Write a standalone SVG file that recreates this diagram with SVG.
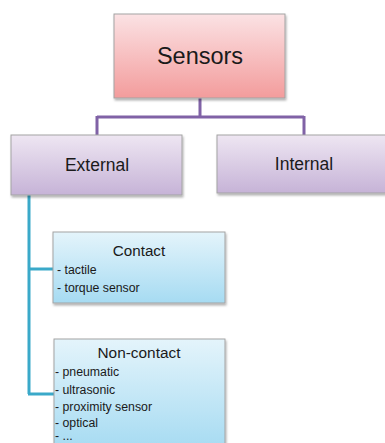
<svg xmlns="http://www.w3.org/2000/svg" width="385" height="443" viewBox="0 0 385 443">
<defs>
<linearGradient id="gPink" x1="0" y1="0" x2="0" y2="1"><stop offset="0" stop-color="#fbe2e4"/><stop offset="1" stop-color="#f39c9c"/></linearGradient>
<linearGradient id="gPurple" x1="0" y1="0" x2="0" y2="1"><stop offset="0" stop-color="#eee6f2"/><stop offset="1" stop-color="#c6b3d7"/></linearGradient>
<linearGradient id="gBlue" x1="0" y1="0" x2="0" y2="1"><stop offset="0" stop-color="#e4f4fb"/><stop offset="1" stop-color="#a6dbf2"/></linearGradient>
<filter id="sh" x="-10%" y="-10%" width="130%" height="130%"><feDropShadow dx="1" dy="2" stdDeviation="1.2" flood-color="#000" flood-opacity="0.3"/></filter>
</defs>
<style>
.box{stroke:#a3a3a3;stroke-width:1;filter:url(#sh)}
.t{font-family:"Liberation Sans",Arial,sans-serif;fill:#1a1a1a;text-anchor:middle}
.s{font-family:"Liberation Sans",Arial,sans-serif;fill:#1a1a1a;font-size:12.3px}
.cp{fill:none;stroke:#8062a6;stroke-width:3}
.ct{fill:none;stroke:#3aa9c9;stroke-width:3}
</style>
<rect width="385" height="443" fill="#fff"/>
<g id="connectors">
<path class="cp" d="M200 98 V117 M97 117 H304 M97 116 V135 M304 116 V135"/>
<path class="ct" d="M29 195 V394 M28 269 H54 M28 394 H54"/>
</g>
<g id="sensors">
<rect class="box" x="114" y="14" width="171" height="84" fill="url(#gPink)"/>
<text class="t" x="200" y="64" font-size="23.5">Sensors</text>
</g>
<g id="external">
<rect class="box" x="11" y="135" width="171" height="60" fill="url(#gPurple)"/>
<text class="t" x="97" y="171" font-size="17.5">External</text>
</g>
<g id="internal">
<rect class="box" x="217" y="135" width="172" height="58" fill="url(#gPurple)"/>
<text class="t" x="304" y="170" font-size="17.5">Internal</text>
</g>
<g id="contact">
<rect class="box" x="53" y="232" width="172" height="71" fill="url(#gBlue)"/>
<text class="t" x="139" y="256" font-size="15.2">Contact</text>
<text class="s" x="57" y="274">- tactile</text>
<text class="s" x="57" y="292">- torque sensor</text>
</g>
<g id="noncontact">
<rect class="box" x="54" y="339" width="171" height="110" fill="url(#gBlue)"/>
<text class="t" x="139" y="358" font-size="15.4">Non-contact</text>
<text class="s" x="55" y="376">- pneumatic</text>
<text class="s" x="55" y="394">- ultrasonic</text>
<text class="s" x="55" y="411">- proximity sensor</text>
<text class="s" x="55" y="427">- optical</text>
<text class="s" x="55" y="439.5">- ...</text>
</g>
</svg>
